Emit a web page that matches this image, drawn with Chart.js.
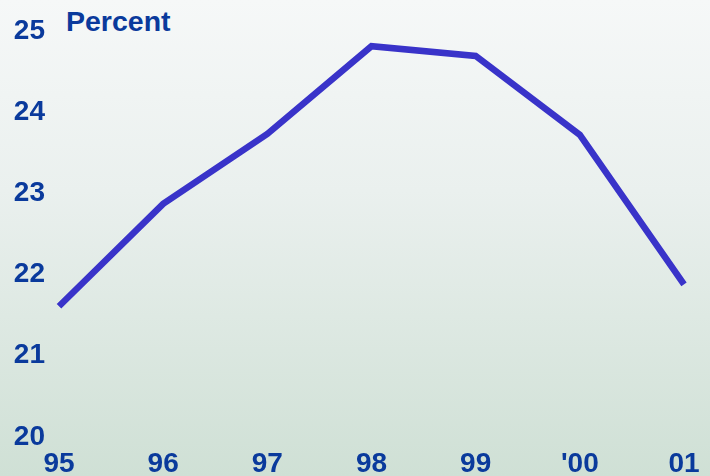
<!DOCTYPE html>
<html>
<head>
<meta charset="utf-8">
<script src="https://cdn.jsdelivr.net/npm/chart.js@4"></script>
<style>
  html, body { margin: 0; padding: 0; }
  body {
    width: 710px; height: 476px; overflow: hidden; position: relative;
    background: linear-gradient(to bottom, #f6f8f8 0%, #eaf0ee 40%, #cfe0d5 100%);
  }
  #title {
    position: absolute; left: 66px; top: 5px;
    font: bold 28.5px "Liberation Sans", Arial, sans-serif; color: #0a3a9c;
  }
  canvas { position: absolute; left: 0; top: 0; }
</style>
</head>
<body>
<div id="title">Percent</div>
<canvas id="c" width="710" height="476"></canvas>
<script>
const categories = ["95", "96", "97", "98", "99", "'00", "01"];
const percentValues = [21.61, 22.87, 23.73, 24.81, 24.69, 23.72, 21.88];
const yTicks = [20, 21, 22, 23, 24, 25];

const textColor = '#0a3a9c';
const font = { family: '"Liberation Sans", Arial, sans-serif', size: 28, weight: 'bold' };

new Chart(document.getElementById('c'), {
  type: 'line',
  data: {
    labels: categories,
    datasets: [{
      data: percentValues,
      borderColor: '#3933c9',
      borderWidth: 6.5,
      pointRadius: 0,
      tension: 0,
      borderCapStyle: 'butt',
      borderJoinStyle: 'miter',
      fill: false
    }]
  },
  options: {
    responsive: false,
    animation: false,
    layout: { padding: { top: 25, right: 26, left: 0, bottom: 0 } },
    plugins: { legend: { display: false }, tooltip: { enabled: false }, title: { display: false } },
    scales: {
      x: {
        type: 'category',
        offset: false,
        grid: { display: false, drawTicks: false },
        border: { display: false },
        ticks: { color: textColor, font: font, padding: 10, maxRotation: 0, autoSkip: false },
        afterFit: (s) => { s.height = 39; }
      },
      y: {
        min: 20, max: 25,
        afterBuildTicks: (s) => { s.ticks = yTicks.map(v => ({ value: v })); },
        grid: { display: false, drawTicks: false },
        border: { display: false },
        ticks: { color: textColor, font: font, padding: 14 },
        afterFit: (s) => { s.width = 59; }
      }
    }
  }
});
</script>
</body>
</html>
